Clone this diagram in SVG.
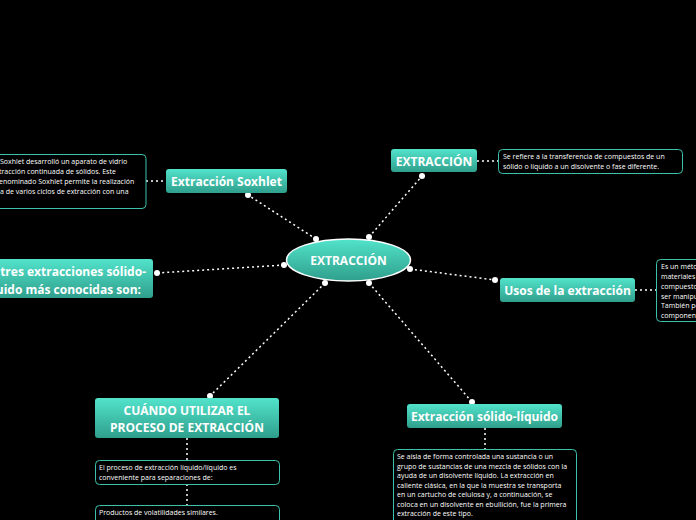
<svg xmlns="http://www.w3.org/2000/svg" width="696" height="520" viewBox="0 0 696 520">
<defs>
<linearGradient id="g" x1="0" y1="0" x2="0" y2="1">
<stop offset="0" stop-color="#52e3cb"/>
<stop offset="1" stop-color="#2f9f8c"/>
</linearGradient>
<style>
.n{fill:url(#g);}
.t{font-family:"Open Sans","Noto Sans","DejaVu Sans",sans-serif;font-weight:bold;font-size:12px;fill:#ffffff;text-anchor:middle;}
.b{fill:#000000;stroke:#3cc2ab;stroke-width:1;}
.s{font-family:"Open Sans","Noto Sans","DejaVu Sans",sans-serif;font-size:7px;fill:#ffffff;}
.c{stroke:#ffffff;stroke-width:1.5;stroke-dasharray:2 3;fill:none;}
.d{fill:#ffffff;}
</style>
</defs>
<rect width="696" height="520" fill="#000000"/>
<g id="connectors">
<line class="c" x1="316" y1="239" x2="248" y2="195"/>
<line class="c" x1="369" y1="237" x2="422" y2="176"/>
<line class="c" x1="284" y1="265" x2="157" y2="273"/>
<line class="c" x1="410" y1="269" x2="495" y2="280"/>
<line class="c" x1="325" y1="283" x2="210" y2="396"/>
<line class="c" x1="369" y1="283" x2="472" y2="402"/>
<line class="c" x1="146" y1="181" x2="166" y2="181"/>
<line class="c" x1="477" y1="161" x2="498" y2="161"/>
<line class="c" x1="635" y1="290" x2="656" y2="290"/>
<line class="c" x1="187" y1="438" x2="187" y2="460"/>
<line class="c" x1="187" y1="484" x2="187" y2="505"/>
<line class="c" x1="485" y1="428" x2="485" y2="449"/>
<circle class="d" cx="316" cy="239" r="3"/>
<circle class="d" cx="248" cy="195" r="3"/>
<circle class="d" cx="369" cy="237" r="3"/>
<circle class="d" cx="422" cy="176" r="3"/>
<circle class="d" cx="284" cy="265" r="3"/>
<circle class="d" cx="157" cy="273" r="3"/>
<circle class="d" cx="410" cy="269" r="3"/>
<circle class="d" cx="495" cy="280" r="3"/>
<circle class="d" cx="325" cy="283" r="3"/>
<circle class="d" cx="210" cy="396" r="3"/>
<circle class="d" cx="369" cy="283" r="3"/>
<circle class="d" cx="472" cy="402" r="3"/>
</g>
<g id="center">
<ellipse cx="348.5" cy="260" rx="62" ry="21" fill="url(#g)" stroke="#ffffff" stroke-width="1.5"/>
<text class="t" x="348.5" y="265">EXTRACCIÓN</text>
</g>
<g id="soxhlet">
<rect class="n" x="166" y="169" width="121" height="24" rx="3"/>
<text class="t" x="226.5" y="186">Extracción Soxhlet</text>
</g>
<g id="soxhlet-text">
<rect class="b" x="-10" y="154.5" width="156" height="54" rx="4"/>
<text class="s" x="0" y="164">Soxhlet desarrolló un aparato de vidrio</text>
<text class="s" x="-1" y="174">tracción continuada de sólidos. Este</text>
<text class="s" x="-1" y="184">enominado Soxhlet permite la realización</text>
<text class="s" x="0" y="194">a de varios ciclos de extracción con una</text>
</g>
<g id="extraccion">
<rect class="n" x="391" y="149" width="86" height="23" rx="3"/>
<text class="t" x="434" y="165.5">EXTRACCIÓN</text>
</g>
<g id="extraccion-text">
<rect class="b" x="498.5" y="149.5" width="184" height="24" rx="4"/>
<text class="s" x="503" y="159">Se refiere a la transferencia de compuestos de un</text>
<text class="s" x="503" y="169">sólido o líquido a un disolvente o fase diferente.</text>
</g>
<g id="tres">
<rect class="n" x="-10" y="259" width="163" height="39" rx="3"/>
<text class="t" x="146" y="276" style="text-anchor:end">tres extracciones sólido-</text>
<text class="t" x="141" y="294" style="text-anchor:end">uido más conocidas son:</text>
</g>
<g id="usos">
<rect class="n" x="500" y="278" width="135" height="24" rx="3"/>
<text class="t" x="567.5" y="295">Usos de la extracción</text>
</g>
<g id="usos-text">
<rect class="b" x="656.5" y="259.5" width="60" height="62" rx="4"/>
<text class="s" x="661" y="269">Es un méto</text>
<text class="s" x="661" y="279">materiales</text>
<text class="s" x="661" y="289">compuesto</text>
<text class="s" x="661" y="299">ser manipu</text>
<text class="s" x="661" y="308">También pe</text>
<text class="s" x="661" y="318">componen</text>
</g>
<g id="cuando">
<rect class="n" x="95" y="398" width="184" height="40" rx="3"/>
<text class="t" x="187" y="415">CUÁNDO UTILIZAR EL</text>
<text class="t" x="187" y="432">PROCESO DE EXTRACCIÓN</text>
</g>
<g id="cuando-text1">
<rect class="b" x="95.5" y="460.5" width="184" height="24" rx="4"/>
<text class="s" x="99" y="470">El proceso de extracción líquido/líquido es</text>
<text class="s" x="99" y="480">conveniente para separaciones de:</text>
</g>
<g id="cuando-text2">
<rect class="b" x="95.5" y="505.5" width="184" height="24" rx="4"/>
<text class="s" x="99" y="515">Productos de volatilidades similares.</text>
</g>
<g id="solido">
<rect class="n" x="407" y="404" width="155" height="24" rx="3"/>
<text class="t" x="484.5" y="421">Extracción sólido-líquido</text>
</g>
<g id="solido-text">
<rect class="b" x="393.5" y="449.5" width="183" height="80" rx="4"/>
<text class="s" x="397" y="459">Se aísla de forma controlada una sustancia o un</text>
<text class="s" x="397" y="469">grupo de sustancias de una mezcla de sólidos con la</text>
<text class="s" x="397" y="478">ayuda de un disolvente líquido. La extracción en</text>
<text class="s" x="397" y="488">caliente clásica, en la que la muestra se transporta</text>
<text class="s" x="397" y="497">en un cartucho de celulosa y, a continuación, se</text>
<text class="s" x="397" y="507">coloca en un disolvente en ebullición, fue la primera</text>
<text class="s" x="397" y="516">extracción de este tipo.</text>
</g>
</svg>
